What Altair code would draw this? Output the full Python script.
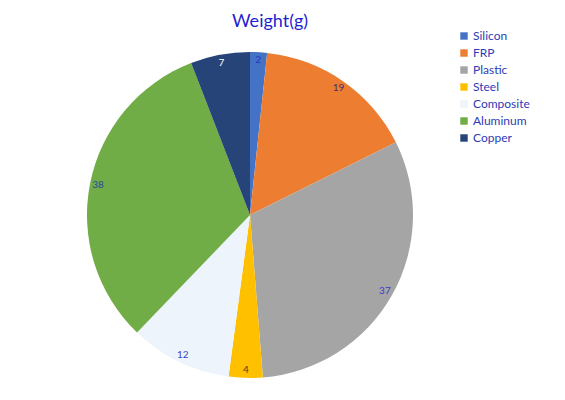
import altair as alt
import pandas as pd

materials = ["Silicon", "FRP", "Plastic", "Steel", "Composite", "Aluminum", "Copper"]
weights = [2, 19, 37, 4, 12, 38, 7]
slice_colors = ["#4472C4", "#ED7D31", "#A5A5A5", "#FFC000", "#EDF4FB", "#70AD47", "#264478"]
label_colors = ["#2b35c8", "#4b2a7a", "#3b3bc4", "#5a3a1a", "#3a45cc", "#2b4a9a", "#ffffff"]

df = pd.DataFrame({"material": materials, "weight": weights, "idx": list(range(len(materials)))})

CX, CY, R = 237, 167, 163

base = alt.Chart(df).encode(
    theta=alt.Theta("weight:Q", stack=True),
    order=alt.Order("idx:Q"),
)

arcs = base.mark_arc(radius=R).encode(
    color=alt.Color(
        "material:N",
        sort=materials,
        scale=alt.Scale(domain=materials, range=slice_colors),
        legend=alt.Legend(
            title=None,
            orient="none",
            legendX=445,
            legendY=-18,
            symbolType="square",
            symbolSize=55,
            symbolStrokeWidth=0,
            labelFontSize=12,
            labelColor="#2e3bb5",
            labelFont="Lato",
            labelOffset=3,
            rowPadding=5,
        ),
    ),
    x=alt.value(CX),
    y=alt.value(CY),
)

labels = base.mark_text(radius=155, fontSize=10, font="Lato").encode(
    text=alt.Text("weight:Q"),
    color=alt.Color(
        "material:N",
        scale=alt.Scale(domain=materials, range=label_colors),
        legend=None,
    ),
    x=alt.value(CX),
    y=alt.value(CY),
)

chart = (
    alt.layer(arcs, labels)
    .resolve_scale(color="independent")
    .properties(
        width=535,
        height=340,
        padding={"top": 40, "left": 5, "right": 5, "bottom": 5},
        autosize=alt.AutoSizeParams(type="none"),
        title=alt.Title("Weight(g)", fontSize=18, font="Lato", fontWeight="normal",
                        color="#1f1fd0", anchor="start", frame="group", dx=219, dy=18, offset=17),
    )
    .configure_view(stroke=None)
)

chart.save("out.html", embed_options={"renderer": "svg", "actions": False})
